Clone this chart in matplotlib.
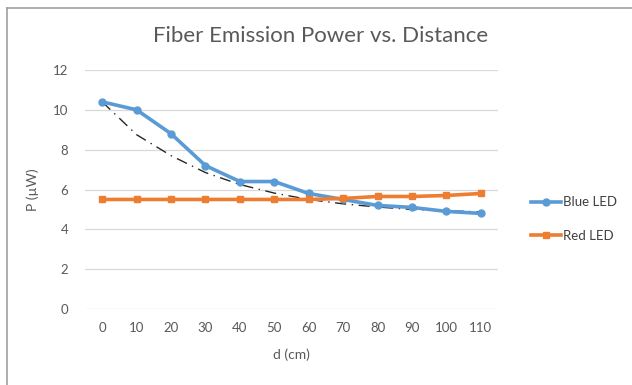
import matplotlib.pyplot as plt
import numpy as np
from matplotlib.lines import Line2D

# distance in cm and measured power in microwatts
d_cm = [0, 10, 20, 30, 40, 50, 60, 70, 80, 90, 100, 110]
blue_led = [10.4, 10.0, 8.8, 7.2, 6.4, 6.4, 5.8, 5.5, 5.2, 5.1, 4.9, 4.8]
red_led = [5.5, 5.5, 5.5, 5.5, 5.5, 5.5, 5.5, 5.55, 5.65, 5.65, 5.7, 5.8]
# trendline of the blue series at each category
blue_trend = [10.4, 8.75, 7.7, 6.85, 6.25, 5.82, 5.5, 5.28, 5.12, 5.0, 4.93, 4.88]
yticks = [0, 2, 4, 6, 8, 10, 12]

plt.rcParams['font.family'] = ['Lato', 'DejaVu Sans']

fig = plt.figure(figsize=(6.32, 3.85), dpi=100)
ax = fig.add_axes([85 / 632, 1 - 309 / 385, 413 / 632, 239 / 385])

x = np.arange(len(d_cm))
ax.plot(x, blue_trend, color='#262626', lw=1.0, ls=(0, (8, 4, 1, 4)), zorder=3)

ax.plot(x, blue_led, color='#5B9BD5', lw=2.6, marker='o', ms=5, zorder=4, label='Blue LED')
ax.plot(x, red_led, color='#ED7D31', lw=2.6, marker='s', ms=5, zorder=4, label='Red LED')

ax.set_xlim(-0.5, len(d_cm) - 0.5)
ax.set_ylim(0, 12)
ax.set_yticks(yticks)
ax.set_xticks(x)
ax.set_xticklabels([str(v) for v in d_cm])
ax.grid(axis='y', color='#D9D9D9', lw=0.9)
ax.set_axisbelow(True)
for s in ax.spines.values():
    s.set_visible(False)
ax.xaxis.set_tick_params(length=0, labelsize=9.5, labelcolor='#595959', pad=9)
ax.yaxis.set_tick_params(length=0, labelsize=9.5, labelcolor='#595959', pad=12)

ax.set_xlabel('d (cm)', fontsize=10, color='#595959', labelpad=11)
ax.set_ylabel('P (µW)', fontsize=10, color='#595959', labelpad=10)
fig.text(321 / 632, 1 - 36 / 385, 'Fiber Emission Power vs. Distance', ha='center', va='center',
         fontsize=16, color='#595959')

leg = fig.legend(handles=ax.get_lines()[1:], loc='center left', bbox_to_anchor=(519 / 632, 1 - 219 / 385),
                 frameon=False, fontsize=9.5, handlelength=2.3, handletextpad=0.1, labelspacing=1.6)
for t in leg.get_texts():
    t.set_color('#404040')

# chart frame (top and left edges visible)
fig.add_artist(Line2D([7 / 632, 7 / 632], [0, 1 - 8 / 385], color='#A0A0A0', lw=1.2))
fig.add_artist(Line2D([7 / 632, 1], [1 - 8 / 385, 1 - 8 / 385], color='#A0A0A0', lw=1.2))

fig.savefig('out.png', dpi=100)
